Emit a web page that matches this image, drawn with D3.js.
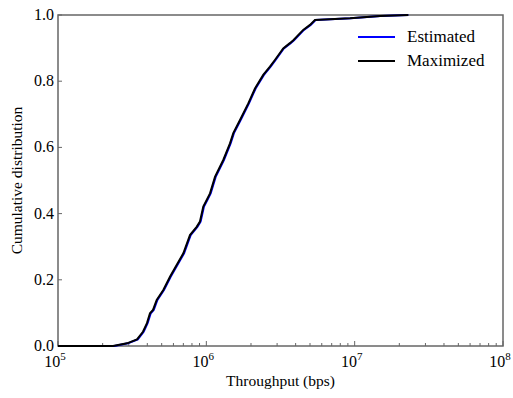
<!DOCTYPE html>
<html>
<head>
<meta charset="utf-8">
<script src="https://cdn.jsdelivr.net/npm/d3@7"></script>
<style>
  body { margin: 0; background: #fff; }
</style>
</head>
<body>
<svg id="chart" width="513" height="398"></svg>
<script>
// CDF points: throughput (bps) and cumulative fraction
const maxThroughput = [1e5, 2.35e5, 2.92e5, 3.41e5, 3.74e5, 3.98e5, 4.17e5, 4.37e5, 4.63e5, 5.13e5, 5.69e5,
  6.31e5, 7.0e5, 7.76e5, 8.61e5, 9.06e5, 9.54e5, 1.006e6, 1.059e6, 1.144e6, 1.301e6, 1.444e6,
  1.52e6, 1.687e6, 1.919e6, 2.128e6, 2.42e6, 2.686e6, 2.9e6, 3.3e6, 3.66e6, 3.86e6, 4.5e6,
  5.0e6, 5.4e6, 9.3e6, 1.48e7, 2.3e7];
const maxCdf = [0, 0, 0.008, 0.02, 0.043, 0.069, 0.099, 0.109, 0.139, 0.169, 0.209,
  0.245, 0.28, 0.335, 0.36, 0.376, 0.421, 0.441, 0.461, 0.511, 0.562, 0.612,
  0.643, 0.683, 0.733, 0.778, 0.819, 0.844, 0.864, 0.899, 0.915, 0.924, 0.955,
  0.97, 0.985, 0.99, 0.997, 1.0];

const estThroughput = [1e5, 2.4e5, 2.96e5, 3.45e5, 3.78e5, 4.02e5, 4.22e5, 4.42e5, 4.68e5, 5.18e5, 5.75e5,
  6.38e5, 7.08e5, 7.84e5, 8.7e5, 9.15e5, 9.64e5, 1.016e6, 1.07e6, 1.156e6, 1.314e6, 1.458e6,
  1.535e6, 1.704e6, 1.938e6, 2.149e6, 2.444e6, 2.713e6, 2.93e6, 3.33e6, 3.7e6, 3.9e6, 4.55e6,
  5.05e6, 5.45e6, 9.4e6, 1.5e7, 2.3e7];
const estCdf = maxCdf.slice();

const seriesNames = ["Estimated", "Maximized"];
const seriesColors = ["#0000ff", "#000000"];
const xTickExp = [5, 6, 7, 8];
const yTicks = [0, 0.2, 0.4, 0.6, 0.8, 1.0];

const FONT = "'Liberation Serif'";
const margin = { top: 15, right: 10, bottom: 52, left: 58 };
const width = 513, height = 398;
const svg = d3.select('#chart');

const x = d3.scaleLog().domain([1e5, 1e8]).range([margin.left, width - margin.right]);
const y = d3.scaleLinear().domain([0, 1]).range([height - margin.bottom, margin.top]);

const axisColor = '#666';

// minor x ticks (inward)
const minor = [];
for (let e = 5; e < 8; e++) for (let m = 2; m <= 9; m++) minor.push(m * Math.pow(10, e));
svg.append('g').selectAll('line').data(minor).enter().append('line')
  .attr('x1', d => x(d)).attr('x2', d => x(d))
  .attr('y1', y(0)).attr('y2', y(0) - 3)
  .attr('stroke', axisColor).attr('stroke-width', 1);

// major x ticks
svg.append('g').selectAll('line').data(xTickExp).enter().append('line')
  .attr('x1', d => x(Math.pow(10, d))).attr('x2', d => x(Math.pow(10, d)))
  .attr('y1', y(0)).attr('y2', y(0) - 5)
  .attr('stroke', axisColor).attr('stroke-width', 1);

// y ticks (inward)
svg.append('g').selectAll('line').data(yTicks).enter().append('line')
  .attr('x1', margin.left).attr('x2', margin.left + 4)
  .attr('y1', d => y(d)).attr('y2', d => y(d))
  .attr('stroke', axisColor).attr('stroke-width', 1);

// frame
svg.append('rect')
  .attr('x', margin.left).attr('y', margin.top)
  .attr('width', width - margin.left - margin.right)
  .attr('height', height - margin.top - margin.bottom)
  .attr('fill', 'none').attr('stroke', axisColor).attr('stroke-width', 1.5);

// y tick labels
svg.append('g').selectAll('text').data(yTicks).enter().append('text')
  .attr('x', margin.left - 4).attr('y', d => y(d) + 5)
  .attr('text-anchor', 'end').attr('font-family', FONT).attr('font-size', 16)
  .text(d => d.toFixed(1));

// x tick labels 10^n
const xl = svg.append('g').selectAll('text').data(xTickExp).enter().append('text')
  .attr('x', d => x(Math.pow(10, d)) - 3).attr('y', y(0) + 21)
  .attr('text-anchor', 'middle').attr('font-family', FONT).attr('font-size', 16);
xl.append('tspan').text('10');
xl.append('tspan').attr('dy', -7).attr('font-size', 11).text(d => d);

// axis titles
svg.append('text')
  .attr('x', (margin.left + width - margin.right) / 2).attr('y', height - 12)
  .attr('text-anchor', 'middle').attr('font-family', FONT).attr('font-size', 15.5)
  .text('Throughput (bps)');
svg.append('text')
  .attr('transform', `translate(22, ${(margin.top + height - margin.bottom) / 2}) rotate(-90)`)
  .attr('text-anchor', 'middle').attr('font-family', FONT).attr('font-size', 15.5)
  .text('Cumulative distribution');

// curves
const line = d3.line().x(d => x(d[0])).y(d => y(d[1]));
const series = [
  d3.zip(estThroughput, estCdf),
  d3.zip(maxThroughput, maxCdf)
];
svg.append('g').selectAll('path').data(series).enter().append('path')
  .attr('d', line)
  .attr('fill', 'none')
  .attr('stroke', (d, i) => seriesColors[i])
  .attr('stroke-width', 2);

// legend
const legend = svg.append('g').selectAll('g').data(seriesNames).enter().append('g')
  .attr('transform', (d, i) => `translate(358, ${37 + i * 24})`);
legend.append('line').attr('x1', 0).attr('x2', 37).attr('y1', 0).attr('y2', 0)
  .attr('stroke', (d, i) => seriesColors[i]).attr('stroke-width', 2);
legend.append('text').attr('x', 49).attr('y', 5)
  .attr('font-family', FONT).attr('font-size', 17).text(d => d);
</script>
</body>
</html>
